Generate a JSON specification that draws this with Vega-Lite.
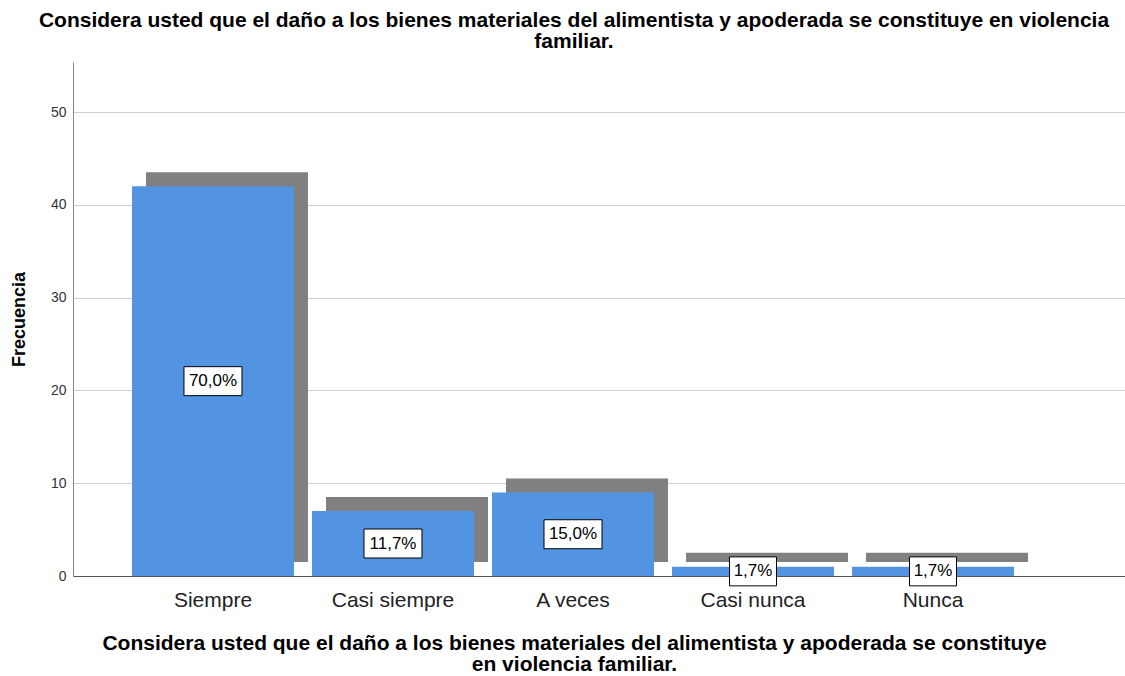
{
  "$schema": "https://vega.github.io/schema/vega-lite/v6.json",
  "width": 1052,
  "height": 514,
  "autosize": "none",
  "padding": {"left": 73, "top": 62, "right": 0, "bottom": 100},
  "background": "white",
  "config": {"view": {"stroke": null}, "font": "Liberation Sans"},
  "title": {
    "text": ["Considera usted que el daño a los bienes materiales del alimentista y apoderada se constituye en violencia", "familiar."],
    "fontSize": 21,
    "fontWeight": "bold",
    "font": "Liberation Sans",
    "color": "black",
    "anchor": "middle",
    "dx": -25,
    "offset": 10,
    "lineHeight": 21.5
  },
  "data": {
    "values": [
      {"categoria": "Siempre", "frecuencia": 42, "porcentaje": "70,0%"},
      {"categoria": "Casi siempre", "frecuencia": 7, "porcentaje": "11,7%"},
      {"categoria": "A veces", "frecuencia": 9, "porcentaje": "15,0%"},
      {"categoria": "Casi nunca", "frecuencia": 1, "porcentaje": "1,7%"},
      {"categoria": "Nunca", "frecuencia": 1, "porcentaje": "1,7%"}
    ]
  },
  "encoding": {
    "x": {
      "field": "categoria",
      "type": "nominal",
      "sort": ["Siempre", "Casi siempre", "A veces", "Casi nunca", "Nunca"],
      "scale": {"paddingInner": 0.1, "paddingOuter": 0.472, "align": 0.347},
      "axis": {
        "title": ["Considera usted que el daño a los bienes materiales del alimentista y apoderada se constituye", "en violencia familiar."],
        "labelAngle": 0,
        "ticks": false,
        "domainColor": "#555555",
        "labelFontSize": 21,
        "labelColor": "#222222",
        "labelPadding": 13,
        "titleFontSize": 21,
        "titleFontWeight": "bold",
        "titleColor": "black",
        "titleLineHeight": 21,
        "titleX": 501,
        "titlePadding": 22
      }
    }
  },
  "resolve": {"scale": {"y": "independent"}},
  "layer": [
    {
      "mark": {"type": "bar", "color": "#808080", "xOffset": 14, "x2Offset": 14, "yOffset": -14, "y2Offset": -14},
      "encoding": {
        "y": {
          "field": "frecuencia",
          "type": "quantitative",
          "scale": {"domain": [0, 55.4], "nice": false},
          "axis": {
            "values": [0, 10, 20, 30, 40, 50],
            "grid": true,
            "gridColor": "#cfcfcf",
            "domainColor": "#888888",
            "ticks": false,
            "labelFontSize": 14,
            "labelColor": "#333333",
            "labelPadding": 7,
            "title": "Frecuencia",
            "titleFontSize": 18,
            "titleFontWeight": "bold",
            "titleColor": "black",
            "titlePadding": 22
          }
        }
      }
    },
    {
      "mark": {"type": "bar", "color": "#5294e2"},
      "encoding": {
        "y": {"field": "frecuencia", "type": "quantitative", "scale": {"domain": [0, 55.4], "nice": false}, "axis": null}
      }
    },
    {
      "mark": {"type": "point", "filled": true, "fill": "white", "stroke": "black", "strokeWidth": 1, "opacity": 1},
      "encoding": {
        "y": {"field": "frecuencia", "type": "quantitative", "scale": {"domain": [0, 110.8], "nice": false}, "axis": null},
        "shape": {
          "condition": {"test": "datum.frecuencia < 2", "value": "M-1,-0.617L1,-0.617L1,0.617L-1,0.617Z"},
          "value": "M-1,-0.5L1,-0.5L1,0.5L-1,0.5Z"
        },
        "size": {
          "condition": {"test": "datum.frecuencia < 2", "value": 2209},
          "value": 3364
        }
      }
    },
    {
      "mark": {"type": "text", "fontSize": 17, "color": "black", "font": "Liberation Sans", "baseline": "middle", "align": "center"},
      "encoding": {
        "y": {"field": "frecuencia", "type": "quantitative", "scale": {"domain": [0, 110.8], "nice": false}, "axis": null},
        "text": {"field": "porcentaje"}
      }
    }
  ]
}
